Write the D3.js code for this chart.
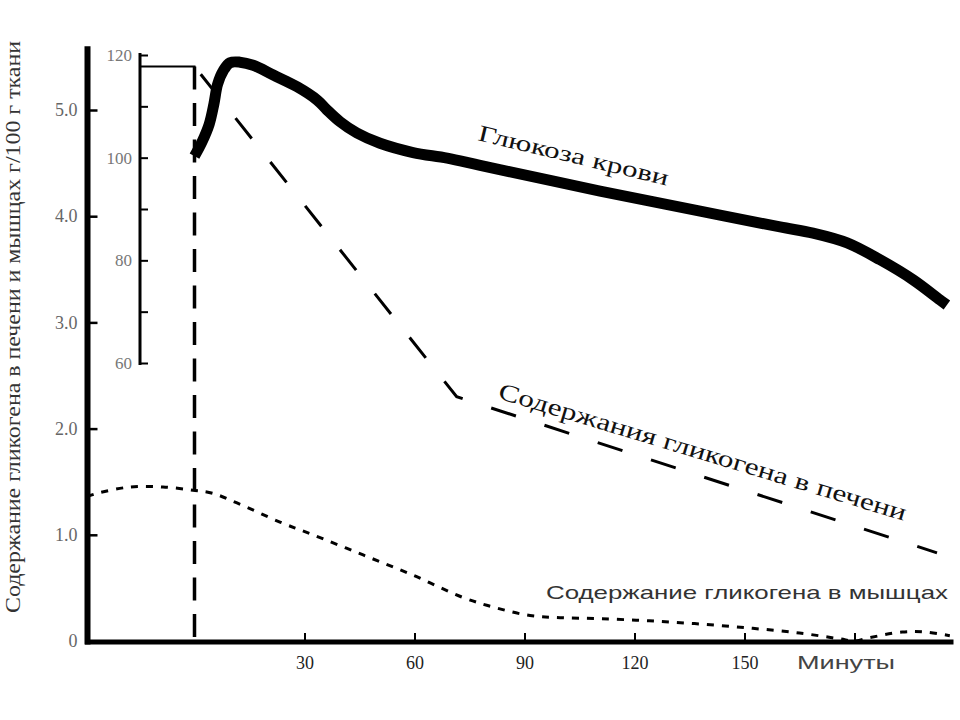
<!DOCTYPE html>
<html>
<head>
<meta charset="utf-8">
<script src="https://cdn.jsdelivr.net/npm/d3@7/dist/d3.min.js"></script>
<style>
  html, body { margin: 0; padding: 0; background: #fff; }
  svg { display: block; }
</style>
</head>
<body>
<svg id="chart" width="960" height="720"></svg>
<script>
// ---- Data ----
// time in minutes after start (0 = vertical dashed line)
const glucoseTime = [0, 2, 4, 5.3, 6.3, 7.9, 9.7, 12.4, 16, 21.5, 28, 33.5, 36, 39.7, 44.3, 50.6, 59.6, 68.9, 77.9, 110.6, 137.9, 159.7, 168.7, 178, 187, 196, 203.3, 205.2];
const glucoseValue = [100.3, 103, 106.5, 110.5, 114.3, 117, 118.5, 118.6, 118, 116.1, 113.8, 111.2, 109.4, 107, 104.8, 102.8, 101, 99.9, 98.5, 93.5, 89.6, 86.5, 85.3, 83.4, 80.1, 76.2, 72.3, 71.3];

const liverTime = [0, 71.5, 202.5];
const liverValue = [5.41, 2.30, 0.83];

const muscleTime = [-29.3, -26.6, -17.6, -8.6, -0.4, 5, 11.6, 23.3, 32.3, 46, 59.6, 73.2, 82.5, 91.5, 99.7, 110.6, 124, 137.9, 152, 165, 176, 180, 184, 193, 199, 206];
const muscleValue = [1.36, 1.39, 1.45, 1.45, 1.42, 1.39, 1.30, 1.12, 1.00, 0.81, 0.62, 0.41, 0.31, 0.24, 0.22, 0.21, 0.19, 0.16, 0.12, 0.075, 0.02, 0.0, 0.03, 0.085, 0.085, 0.05];

const xTicks = [30, 60, 90, 120, 150, 180];
const xTickLabels = ["30", "60", "90", "120", "150", ""];
const yTicks = [0, 1, 2, 3, 4, 5];
const yTickLabels = ["0", "1.0", "2.0", "3.0", "4.0", "5.0"];
const gTicks = [60, 70, 80, 90, 100, 110, 120];
const gTickLabels = ["60", "", "80", "", "100", "", "120"];

const yTitle = "Содержание гликогена в печени и мышцах г/100 г ткани";
const xTitle = "Минуты";
const glucoseLabel = "Глюкоза крови";
const liverLabel = "Содержания гликогена в печени";
const muscleLabel = "Содержание гликогена в мышцах";

// ---- Scales ----
const svg = d3.select("#chart");
const x = d3.scaleLinear().domain([0, 180]).range([194.5, 854.5]);
const y = d3.scaleLinear().domain([0, 5]).range([641, 110]);
const g = d3.scaleLinear().domain([60, 120]).range([363, 55]);

const serif = "'Liberation Serif', 'DejaVu Serif', serif";
const sans = "'Liberation Sans', Arial, sans-serif";

// ---- Muscle glycogen (dotted) ----
const muscle = muscleTime.map((t, i) => [t, muscleValue[i]]);
svg.append("path")
  .datum(muscle)
  .attr("fill", "none")
  .attr("stroke", "#000")
  .attr("stroke-width", 3)
  .attr("stroke-dasharray", "7,8")
  .attr("d", d3.line().x(d => x(d[0])).y(d => y(d[1])).curve(d3.curveCatmullRom));

// ---- Vertical dashed reference line at t = 0 ----
svg.append("line")
  .attr("x1", x(0)).attr("x2", x(0))
  .attr("y1", y(liverValue[0])).attr("y2", y(0))
  .attr("stroke", "#000").attr("stroke-width", 3.5)
  .attr("stroke-dasharray", "23,13.5");

// ---- Liver glycogen (dashed) ----
const liver = liverTime.map((t, i) => [t, liverValue[i]]);
svg.append("path")
  .datum(liver)
  .attr("fill", "none")
  .attr("stroke", "#000")
  .attr("stroke-width", 3)
  .attr("stroke-dasharray", "26,30")
  .attr("stroke-dashoffset", 46)
  .attr("d", d3.line().x(d => x(d[0])).y(d => y(d[1])));

// ---- Blood glucose (thick) ----
const glucose = glucoseTime.map((t, i) => [t, glucoseValue[i]]);
svg.append("path")
  .datum(glucose)
  .attr("fill", "none")
  .attr("stroke", "#000")
  .attr("stroke-width", 11)
  .attr("stroke-linejoin", "round")
  .attr("d", d3.line().x(d => x(d[0])).y(d => g(d[1])).curve(d3.curveCatmullRom));

// ---- Main y axis ----
const yAxis = d3.axisLeft(y)
  .tickValues(yTicks)
  .tickSize(-10)
  .tickPadding(10)
  .tickFormat((d, i) => yTickLabels[i]);
const yG = svg.append("g").attr("transform", "translate(87.5,0)").call(yAxis);
yG.select(".domain").remove();
yG.selectAll(".tick line").attr("stroke", "#000").attr("stroke-width", 2.5);
yG.selectAll(".tick text").attr("font-family", serif).attr("font-size", 18).attr("fill", "#666");
svg.append("line")
  .attr("x1", 87.5).attr("x2", 87.5)
  .attr("y1", y(5.6)).attr("y2", 644.5)
  .attr("stroke", "#000").attr("stroke-width", 6);

// ---- Glucose (inner) axis ----
const gAxis = d3.axisLeft(g)
  .tickValues(gTicks)
  .tickSize(-8)
  .tickPadding(8)
  .tickFormat((d, i) => gTickLabels[i]);
const gG = svg.append("g").attr("transform", "translate(140,0)").call(gAxis);
gG.select(".domain").remove();
gG.selectAll(".tick line").attr("stroke", "#000").attr("stroke-width", 2);
gG.selectAll(".tick text").attr("font-family", serif).attr("font-size", 17).attr("fill", "#777");
svg.append("line")
  .attr("x1", 140).attr("x2", 140)
  .attr("y1", g(120.4)).attr("y2", g(59.6))
  .attr("stroke", "#000").attr("stroke-width", 3);
// bracket from inner axis to t=0 at initial liver level
svg.append("line")
  .attr("x1", 140).attr("x2", x(0) + 1)
  .attr("y1", y(liverValue[0])).attr("y2", y(liverValue[0]))
  .attr("stroke", "#000").attr("stroke-width", 2);

// ---- x axis ----
const xAxis = d3.axisBottom(x)
  .tickValues(xTicks)
  .tickSize(-9)
  .tickPadding(14)
  .tickFormat((d, i) => xTickLabels[i]);
const xG = svg.append("g").attr("transform", "translate(0,642)").call(xAxis);
xG.select(".domain").remove();
xG.selectAll(".tick line").attr("stroke", "#000").attr("stroke-width", 2);
xG.selectAll(".tick text").attr("font-family", serif).attr("font-size", 18).attr("fill", "#222");
svg.append("line")
  .attr("x1", 85).attr("x2", x(207))
  .attr("y1", 642).attr("y2", 642)
  .attr("stroke", "#000").attr("stroke-width", 5);

svg.append("text")
  .attr("x", 797).attr("y", 669)
  .attr("font-family", sans).attr("font-size", 19).attr("fill", "#444")
  .attr("textLength", 98).attr("lengthAdjust", "spacingAndGlyphs")
  .text(xTitle);

// ---- y title ----
svg.append("text")
  .attr("transform", "translate(20,327) rotate(-90)")
  .attr("text-anchor", "middle")
  .attr("font-family", serif).attr("font-size", 20).attr("fill", "#333")
  .attr("textLength", 572).attr("lengthAdjust", "spacingAndGlyphs")
  .text(yTitle);

// ---- Curve labels ----
svg.append("text")
  .attr("transform", "translate(477,140) rotate(13.5)")
  .attr("font-family", serif).attr("font-size", 23).attr("fill", "#111")
  .attr("textLength", 195).attr("lengthAdjust", "spacingAndGlyphs")
  .text(glucoseLabel);

svg.append("text")
  .attr("transform", "translate(497,398) rotate(16.8)")
  .attr("font-family", serif).attr("font-size", 24).attr("fill", "#111")
  .attr("textLength", 425).attr("lengthAdjust", "spacingAndGlyphs")
  .text(liverLabel);

svg.append("text")
  .attr("x", 546).attr("y", 599)
  .attr("font-family", sans).attr("font-size", 19).attr("fill", "#333")
  .attr("textLength", 402).attr("lengthAdjust", "spacingAndGlyphs")
  .text(muscleLabel);
</script>
</body>
</html>
